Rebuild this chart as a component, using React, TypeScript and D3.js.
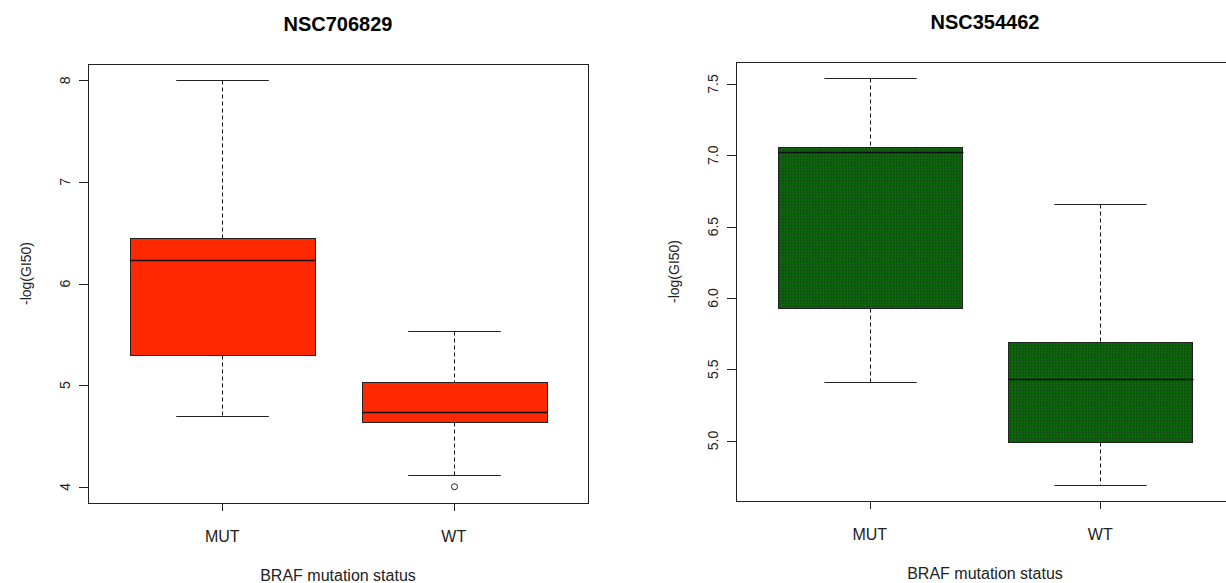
import React from "react";
import * as d3 from "d3";

// ---- data ----
const categories = ["MUT", "WT"];
const titles = ["NSC706829", "NSC354462"];
const xAxisTitle = "BRAF mutation status";
const yAxisTitle = "-log(GI50)";

// [lower whisker, Q1, median, Q3, upper whisker]
const nsc706829MUT = [4.70, 5.30, 6.23, 6.45, 8.00];
const nsc706829WT = [4.12, 4.64, 4.74, 5.03, 5.53];
const nsc706829Outliers = [[], [4.0]];
const nsc354462MUT = [5.41, 5.93, 7.02, 7.06, 7.54];
const nsc354462WT = [4.69, 4.99, 5.43, 5.69, 6.66];
const nsc354462Outliers = [[], []];

const ticks706829 = [4, 5, 6, 7, 8];
const ticks354462 = [5.0, 5.5, 6.0, 6.5, 7.0, 7.5];

const FONT = "'Liberation Sans', Arial, Helvetica, sans-serif";

type PanelProps = {
  title: string;
  stats: number[][];
  outliers: number[][];
  ticks: number[];
  tickFmt: (v: number) => string;
  frame: { left: number; right: number; top: number; bottom: number };
  fill: string;
};

function Panel({ title, stats, outliers, ticks, tickFmt, frame, fill }: PanelProps) {
  const all = stats.flat().concat(outliers.flat());
  const [mn, mx] = d3.extent(all) as [number, number];
  const pad = (mx - mn) * 0.04;
  const y = d3.scaleLinear().domain([mn - pad, mx + pad]).range([frame.bottom, frame.top]);
  const x = d3.scaleLinear().domain([0.42, 2.58]).range([frame.left, frame.right]);
  const boxHalf = (x(1.4) - x(1)) ;
  const capHalf = boxHalf / 2;
  const cx = (frame.left + frame.right) / 2;
  const cy = (frame.top + frame.bottom) / 2;
  const px = (v: number) => Math.round(v) + 0.5;

  return (
    <g>
      <text x={cx} y={frame.top - 33} textAnchor="middle" fontFamily={FONT} fontWeight="bold" fontSize={20} fill="#000">
        {title}
      </text>
      {stats.map((s, i) => {
        const xc = px(x(i + 1));
        const [lw, q1, med, q3, uw] = s;
        return (
          <g key={i}>
            <line x1={xc} x2={xc} y1={px(y(uw))} y2={px(y(q3))} stroke="#111" strokeDasharray="4,3" />
            <line x1={xc} x2={xc} y1={px(y(q1))} y2={px(y(lw))} stroke="#111" strokeDasharray="4,3" />
            <line x1={xc - capHalf} x2={xc + capHalf} y1={px(y(uw))} y2={px(y(uw))} stroke="#222" />
            <line x1={xc - capHalf} x2={xc + capHalf} y1={px(y(lw))} y2={px(y(lw))} stroke="#222" />
            <rect
              x={px(xc - boxHalf)}
              y={px(y(q3))}
              width={Math.round(2 * boxHalf)}
              height={Math.round(y(q1) - y(q3))}
              fill={fill}
              stroke="#222"
            />
            <line x1={px(xc - boxHalf)} x2={px(xc + boxHalf)} y1={px(y(med))} y2={px(y(med))} stroke="#111" strokeWidth={1.5} />
            {outliers[i].map((o, j) => (
              <circle key={j} cx={xc} cy={y(o)} r={3} fill="none" stroke="#222" />
            ))}
          </g>
        );
      })}
      {/* frame */}
      <rect x={px(frame.left)} y={px(frame.top)} width={frame.right - frame.left} height={frame.bottom - frame.top} fill="none" stroke="#222" />
      {/* y axis */}
      {ticks.map((t) => (
        <g key={t}>
          <line x1={frame.left - 9} x2={frame.left} y1={px(y(t))} y2={px(y(t))} stroke="#222" />
          <text
            transform={`translate(${frame.left - 18},${y(t)}) rotate(-90)`}
            textAnchor="middle"
            fontFamily={FONT}
            fontSize={14}
            fill="#222"
          >
            {tickFmt(t)}
          </text>
        </g>
      ))}
      <text
        transform={`translate(${frame.left - 57},${cy - 10}) rotate(-90)`}
        textAnchor="middle"
        fontFamily={FONT}
        fontSize={14}
        fill="#222"
      >
        {yAxisTitle}
      </text>
      {/* x axis */}
      {categories.map((c, i) => (
        <g key={c}>
          <line x1={px(x(i + 1))} x2={px(x(i + 1))} y1={frame.bottom} y2={frame.bottom + 8} stroke="#222" />
          <text x={x(i + 1)} y={frame.bottom + 39} textAnchor="middle" fontFamily={FONT} fontSize={16} fill="#222">
            {c}
          </text>
        </g>
      ))}
      <text x={cx} y={frame.bottom + 78} textAnchor="middle" fontFamily={FONT} fontSize={16} fill="#222">
        {xAxisTitle}
      </text>
    </g>
  );
}

export default function App() {
  return (
    <svg
      width={1226}
      height={583}
      style={{ position: "absolute", left: 0, top: 0, background: "#fff" }}
    >
      <defs>
        <pattern id="greenTex" width={3} height={3} patternUnits="userSpaceOnUse">
          <rect width={3} height={3} fill="#0b680b" />
          <rect x={0} y={0} width={1} height={1} fill="#263826" />
          <rect x={2} y={0} width={1} height={3} fill="#0a560a" />
        </pattern>
      </defs>
      <rect width={1226} height={583} fill="#fff" />
      <Panel
        title={titles[0]}
        stats={[nsc706829MUT, nsc706829WT]}
        outliers={nsc706829Outliers}
        ticks={ticks706829}
        tickFmt={(v) => d3.format("d")(v)}
        frame={{ left: 88, right: 588, top: 64, bottom: 503 }}
        fill="#ff2800"
      />
      <Panel
        title={titles[1]}
        stats={[nsc354462MUT, nsc354462WT]}
        outliers={nsc354462Outliers}
        ticks={ticks354462}
        tickFmt={(v) => d3.format(".1f")(v)}
        frame={{ left: 736, right: 1234, top: 62, bottom: 501 }}
        fill="url(#greenTex)"
      />
    </svg>
  );
}
